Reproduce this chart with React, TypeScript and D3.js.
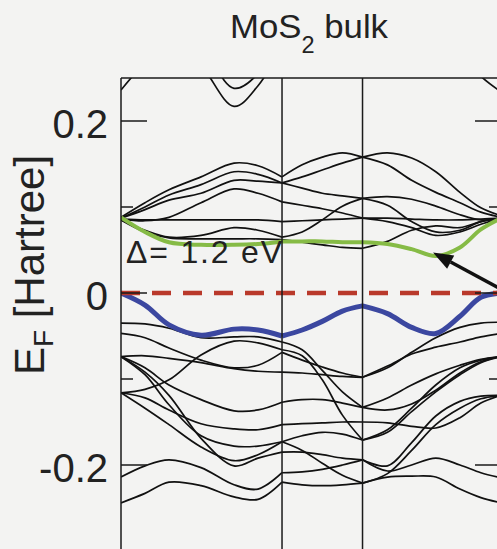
import * as d3 from "d3";

// k-path sample positions (Γ - M - K - Γ), same grid for every band
const kSamples = [0, 0.149, 0.298, 0.497, 0.702, 0.851, 1, 1.125, 1.25, 1.375, 1.5, 1.655, 1.805, 1.955, 2.105, 2.235, 2.36];
const symPoints = [0, 1, 1.5, 2.36];

const yTicksMajor = [0.2, 0, -0.2];
const yTicksMinor = [0.1, -0.1];
const yTickLabels = ["0.2", "0", "-0.2"];

// energies in Hartree, E_F = 0
const upperBands = [
  [0.236, 0.268, 0.292, 0.31, 0.318, 0.315, 0.31, 0.312, 0.315, 0.318, 0.32, 0.316, 0.31, 0.302, 0.28, 0.252, 0.234],
  [0.317, 0.312, 0.3, 0.265, 0.217, 0.241, 0.288, 0.3, 0.31, 0.32, 0.33, 0.33, 0.33, 0.33, 0.32, 0.31, 0.3],
  [0.34, 0.335, 0.32, 0.288, 0.238, 0.255, 0.306, 0.32, 0.33, 0.34, 0.345, 0.345, 0.345, 0.34, 0.335, 0.33, 0.33],
];

const conductionBands = [
  [0.088, 0.105, 0.12, 0.135, 0.151, 0.148, 0.135, 0.149, 0.158, 0.163, 0.158, 0.149, 0.131, 0.117, 0.105, 0.094, 0.088],
  [0.087, 0.1, 0.114, 0.126, 0.141, 0.138, 0.128, 0.135, 0.143, 0.151, 0.158, 0.163, 0.157, 0.141, 0.117, 0.099, 0.09],
  [0.087, 0.097, 0.108, 0.116, 0.131, 0.13, 0.128, 0.122, 0.116, 0.113, 0.11, 0.112, 0.109, 0.101, 0.091, 0.085, 0.086],
  [0.086, 0.084, 0.088, 0.105, 0.121, 0.116, 0.106, 0.102, 0.098, 0.093, 0.087, 0.083, 0.076, 0.067, 0.071, 0.08, 0.087],
  [0.086, 0.085, 0.085, 0.085, 0.085, 0.085, 0.083, 0.084, 0.085, 0.086, 0.087, 0.087, 0.086, 0.085, 0.085, 0.086, 0.087],
  [0.085, 0.073, 0.065, 0.067, 0.076, 0.073, 0.065, 0.071, 0.085, 0.101, 0.11, 0.102, 0.083, 0.071, 0.073, 0.083, 0.087],
  [0.085, 0.071, 0.064, 0.063, 0.063, 0.063, 0.062, 0.059, 0.056, 0.053, 0.052, 0.06, 0.073, 0.078, 0.076, 0.083, 0.087],
];

// lowest conduction band (green) and highest valence band (blue)
const cbmBand = [0.088, 0.071, 0.059, 0.056, 0.056, 0.057, 0.06, 0.06, 0.06, 0.059, 0.059, 0.057, 0.051, 0.043, 0.053, 0.074, 0.087];
const vbmBand = [0, -0.014, -0.037, -0.049, -0.042, -0.043, -0.05, -0.043, -0.033, -0.021, -0.015, -0.024, -0.04, -0.047, -0.027, -0.005, 0];

const valenceBands = [
  [-0.035, -0.036, -0.041, -0.052, -0.051, -0.051, -0.057, -0.066, -0.09, -0.115, -0.133, -0.122, -0.107, -0.094, -0.084, -0.077, -0.074],
  [-0.047, -0.052, -0.064, -0.078, -0.087, -0.084, -0.069, -0.078, -0.086, -0.093, -0.098, -0.087, -0.069, -0.052, -0.04, -0.035, -0.034],
  [-0.074, -0.073, -0.076, -0.081, -0.088, -0.091, -0.092, -0.093, -0.095, -0.097, -0.098, -0.085, -0.071, -0.063, -0.057, -0.051, -0.047],
  [-0.116, -0.112, -0.101, -0.072, -0.056, -0.058, -0.066, -0.073, -0.101, -0.142, -0.171, -0.159, -0.134, -0.107, -0.087, -0.078, -0.074],
  [-0.074, -0.087, -0.107, -0.124, -0.137, -0.136, -0.127, -0.124, -0.124, -0.128, -0.133, -0.136, -0.129, -0.113, -0.093, -0.08, -0.074],
  [-0.116, -0.134, -0.153, -0.179, -0.195, -0.188, -0.173, -0.166, -0.162, -0.164, -0.171, -0.162, -0.138, -0.115, -0.095, -0.081, -0.074],
  [-0.074, -0.092, -0.119, -0.169, -0.201, -0.192, -0.185, -0.185, -0.188, -0.192, -0.194, -0.201, -0.174, -0.143, -0.126, -0.12, -0.119],
  [-0.116, -0.122, -0.136, -0.152, -0.158, -0.159, -0.153, -0.152, -0.151, -0.15, -0.15, -0.151, -0.155, -0.157, -0.145, -0.128, -0.119],
  [-0.074, -0.095, -0.13, -0.166, -0.178, -0.178, -0.173, -0.183, -0.198, -0.212, -0.221, -0.21, -0.183, -0.153, -0.134, -0.123, -0.119],
  [-0.214, -0.201, -0.194, -0.203, -0.223, -0.228, -0.209, -0.208, -0.205, -0.2, -0.194, -0.207, -0.2, -0.192, -0.2, -0.209, -0.215],
  [-0.244, -0.233, -0.22, -0.224, -0.237, -0.24, -0.22, -0.223, -0.224, -0.223, -0.221, -0.214, -0.213, -0.214, -0.228, -0.238, -0.244],
];

// arrow from lower right pointing at the conduction band minimum
const arrowTail = [2.385, 0.002];
const arrowTip = [1.938, 0.047];
const gapLabel = "Δ= 1.2 eV";

const W = 497;
const H = 549;
const FONT = "'Liberation Sans', Arial, Helvetica, sans-serif";

export default function App() {
  const x = d3.scaleLinear().domain([0, 2.36]).range([121, 501]);
  const y = d3.scaleLinear().domain([0.25, -0.3]).range([78, 551]);

  // split each band at M and K so the kinks stay sharp
  const symIdx = symPoints.map((s) => kSamples.indexOf(s));
  const segments = d3.pairs(symIdx);
  const line = d3
    .line<[number, number]>()
    .x((d) => x(d[0]))
    .y((d) => y(d[1]))
    .curve(d3.curveCatmullRom.alpha(0.5));
  const bandPath = (band: number[]) =>
    segments
      .map(([a, b]) => line(d3.range(a, b + 1).map((i) => [kSamples[i], band[i]] as [number, number])))
      .join("");

  const left = x(0);
  const right = x(2.36);
  const top = y(0.25);
  const bottom = y(-0.3);

  // arrow head geometry
  const tx = x(arrowTip[0]);
  const ty = y(arrowTip[1]);
  const sx = x(arrowTail[0]);
  const sy = y(arrowTail[1]);
  const ang = Math.atan2(ty - sy, tx - sx);
  const hl = 20;
  const hw = 7.5;
  const bx = tx - hl * Math.cos(ang);
  const by = ty - hl * Math.sin(ang);
  const head = [
    [tx, ty],
    [bx + hw * Math.sin(ang), by - hw * Math.cos(ang)],
    [bx - hw * Math.sin(ang), by + hw * Math.cos(ang)],
  ];

  return (
    <svg width={W} height={H} style={{ position: "absolute", left: 0, top: 0 }} fontFamily={FONT}>
      <defs>
        <clipPath id="plot">
          <rect x={left} y={top} width={right - left} height={bottom - top} />
        </clipPath>
      </defs>
      <rect width={W} height={H} fill="#f3f3f2" />

      <g clipPath="url(#plot)" fill="none">
        {upperBands.concat(conductionBands, valenceBands).map((b, i) => (
          <path key={i} d={bandPath(b)} stroke="#111" strokeWidth={1.7} />
        ))}
        <path d={bandPath(cbmBand)} stroke="#86bb46" strokeWidth={4} />
        <path d={bandPath(vbmBand)} stroke="#3b47a0" strokeWidth={5} />
        <line x1={left} x2={right} y1={y(0)} y2={y(0)} stroke="#b9392b" strokeWidth={4.5} strokeDasharray="19 12" />
      </g>

      {/* frame and high-symmetry lines */}
      <g stroke="#1a1a1a" strokeWidth={1.5}>
        <line x1={left} x2={left} y1={top} y2={H} />
        <line x1={right} x2={right} y1={top} y2={H} />
        <line x1={left} x2={right} y1={top} y2={top} />
        {symPoints.slice(1, -1).map((s) => (
          <line key={s} x1={x(s)} x2={x(s)} y1={top} y2={H} />
        ))}
        {yTicksMajor.map((t) => (
          <g key={t}>
            <line x1={left} x2={left + 26} y1={y(t)} y2={y(t)} />
            <line x1={right - 26} x2={right} y1={y(t)} y2={y(t)} />
          </g>
        ))}
        {yTicksMinor.map((t) => (
          <g key={t}>
            <line x1={left} x2={left + 12} y1={y(t)} y2={y(t)} />
            <line x1={right - 12} x2={right} y1={y(t)} y2={y(t)} />
          </g>
        ))}
      </g>

      {yTicksMajor.map((t, i) => (
        <text key={t} x={108} y={y(t) + 17} fontSize={40} textAnchor="end" fill="#222">
          {yTickLabels[i]}
        </text>
      ))}

      <text transform={`translate(44, 265) rotate(-90)`} fontSize={42} textAnchor="middle" fill="#222">
        E<tspan fontSize={28} dy={9}>F</tspan>
        <tspan dy={-9}> [Hartree]</tspan>
      </text>

      <text x={309} y={38} fontSize={34} textAnchor="middle" fill="#222" textLength={158} lengthAdjust="spacingAndGlyphs">
        MoS<tspan fontSize={23} dy={15}>2</tspan>
        <tspan dy={-15}> bulk</tspan>
      </text>

      <text x={left + 5} y={y(0.035)} fontSize={32} fill="#222" textLength={156} lengthAdjust="spacing">
        {gapLabel}
      </text>

      <line x1={sx} y1={sy} x2={bx} y2={by} stroke="#111" strokeWidth={3.5} />
      <polygon points={head.map((p) => p.join(",")).join(" ")} fill="#111" />
    </svg>
  );
}
